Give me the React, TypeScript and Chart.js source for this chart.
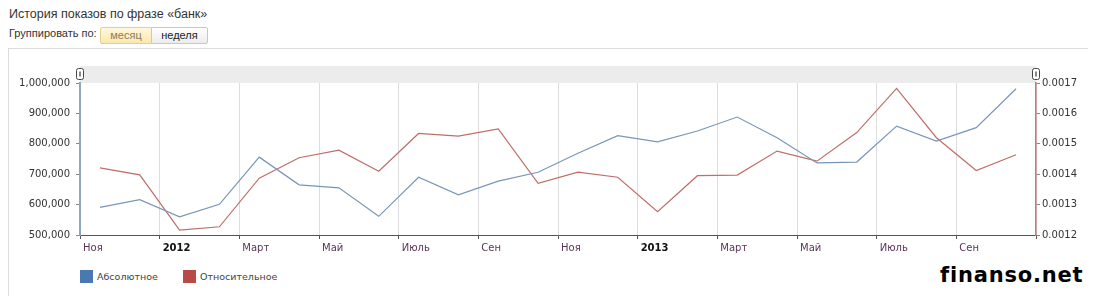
import React, { useEffect, useRef } from "react";
import { Chart, registerables } from "chart.js";

Chart.register(...registerables);

// Monthly data, Nov 2011 .. Oct 2013
const months = [
  "2011-11", "2011-12", "2012-01", "2012-02", "2012-03", "2012-04",
  "2012-05", "2012-06", "2012-07", "2012-08", "2012-09", "2012-10",
  "2012-11", "2012-12", "2013-01", "2013-02", "2013-03", "2013-04",
  "2013-05", "2013-06", "2013-07", "2013-08", "2013-09", "2013-10",
];
const absoluteValues = [
  591000, 616500, 560000, 601000, 756000, 665000,
  655000, 561500, 690000, 632000, 677000, 706500,
  769000, 827000, 806500, 842000, 888000, 820000,
  737000, 740000, 858000, 809000, 853000, 981000,
];
const relativeValues = [
  0.001421, 0.001398, 0.001216, 0.001227, 0.001387, 0.001454,
  0.001479, 0.00141, 0.001534, 0.001525, 0.001549, 0.00137,
  0.001407, 0.00139, 0.001277, 0.001395, 0.001397, 0.001476,
  0.001443, 0.001537, 0.001682, 0.00152, 0.001412, 0.001464,
];
// Labels every two months from the start of Nov 2011
const xTickLabels = [
  "Ноя", "2012", "Март", "Май", "Июль", "Сен",
  "Ноя", "2013", "Март", "Май", "Июль", "Сен", "",
];
const yearLabels = ["2012", "2013"];
const leftTicks = [500000, 600000, 700000, 800000, 900000, 1000000];
const rightTicks = [0.0012, 0.0013, 0.0014, 0.0015, 0.0016, 0.0017];

const seriesNames = ["Абсолютное", "Относительное"];
const lineColors = ["#7896b9", "#bf6e68"];
const swatchColors = ["#4a78b0", "#b84a48"];

const AXIS_FONT = "'DejaVu Sans', Verdana, sans-serif";

const stripPlugin = {
  id: "strip",
  beforeDraw(chart: any) {
    const { ctx, chartArea } = chart;
    ctx.save();
    ctx.fillStyle = "#ececec";
    ctx.fillRect(chartArea.left, chartArea.top - 17, chartArea.right - chartArea.left, 17);
    ctx.restore();
  },
  afterDraw(chart: any) {
    const { ctx, chartArea } = chart;
    const drawHandle = (cx: number) => {
      const x = Math.round(cx) - 3.5;
      const y = chartArea.top - 14.5;
      ctx.save();
      ctx.fillStyle = "#ffffff";
      ctx.strokeStyle = "#444";
      ctx.lineWidth = 1;
      ctx.beginPath();
      const w = 7, h = 11, r = 2;
      ctx.moveTo(x + r, y);
      ctx.lineTo(x + w - r, y);
      ctx.quadraticCurveTo(x + w, y, x + w, y + r);
      ctx.lineTo(x + w, y + h - r);
      ctx.quadraticCurveTo(x + w, y + h, x + w - r, y + h);
      ctx.lineTo(x + r, y + h);
      ctx.quadraticCurveTo(x, y + h, x, y + h - r);
      ctx.lineTo(x, y + r);
      ctx.quadraticCurveTo(x, y, x + r, y);
      ctx.fill();
      ctx.stroke();
      ctx.fillStyle = "#888";
      ctx.fillRect(x + 2.5, y + 3, 2, 5);
      ctx.restore();
    };
    drawHandle(chartArea.left);
    drawHandle(chartArea.right);
  },
};

export default function App() {
  const canvasRef = useRef<HTMLCanvasElement | null>(null);

  useEffect(() => {
    if (!canvasRef.current) return;
    const absPoints = absoluteValues.map((v, i) => ({ x: i + 0.5, y: v }));
    const relPoints = relativeValues.map((v, i) => ({ x: i + 0.5, y: v }));
    const chart = new Chart(canvasRef.current, {
      type: "line",
      data: {
        datasets: [
          {
            label: seriesNames[0],
            data: absPoints,
            borderColor: lineColors[0],
            borderWidth: 1.2,
            pointRadius: 0,
            tension: 0,
            yAxisID: "y",
          },
          {
            label: seriesNames[1],
            data: relPoints,
            borderColor: lineColors[1],
            borderWidth: 1.2,
            pointRadius: 0,
            tension: 0,
            yAxisID: "y1",
          },
        ],
      },
      options: {
        animation: false,
        responsive: false,
        devicePixelRatio: 1,
        layout: { padding: { top: 35, left: 0, right: 0, bottom: 0 } },
        plugins: {
          legend: { display: false },
          tooltip: { enabled: false },
        },
        scales: {
          x: {
            type: "linear",
            min: 0,
            max: months.length,
            afterBuildTicks: (scale: any) => {
              scale.ticks = xTickLabels.map((_, i) => ({ value: i * 2 }));
            },
            afterFit: (scale: any) => {
              scale.height = 25;
            },
            grid: {
              color: "#dddddd",
              tickColor: "#555",
              tickLength: 4,
              drawOnChartArea: true,
            },
            border: { color: "#555", width: 1 },
            ticks: {
              autoSkip: false,
              maxRotation: 0,
              align: "start",
              labelOffset: 3,
              padding: 3,
              callback: (v: any) => xTickLabels[Math.round(Number(v) / 2)] ?? "",
              color: (ctx: any) => {
                const lab = xTickLabels[ctx.index] ?? "";
                return yearLabels.includes(lab) ? "#111" : "#5a3558";
              },
              font: (ctx: any) => {
                const lab = xTickLabels[ctx.index] ?? "";
                return {
                  family: AXIS_FONT,
                  size: 10,
                  weight: yearLabels.includes(lab) ? "bold" : "normal",
                };
              },
            },
          },
          y: {
            type: "linear",
            position: "left",
            min: leftTicks[0],
            max: leftTicks[leftTicks.length - 1],
            afterBuildTicks: (scale: any) => {
              scale.ticks = leftTicks.map((v) => ({ value: v }));
            },
            afterFit: (scale: any) => {
              scale.width = 72;
            },
            grid: { drawOnChartArea: false, tickLength: 4, tickColor: "#888" },
            border: { color: "#8fa6c0", width: 2 },
            ticks: {
              padding: 6,
              color: "#333",
              font: { family: AXIS_FONT, size: 10 },
              callback: (v: any) => Number(v).toLocaleString("en-US"),
            },
          },
          y1: {
            type: "linear",
            position: "right",
            min: rightTicks[0],
            max: rightTicks[rightTicks.length - 1],
            afterBuildTicks: (scale: any) => {
              scale.ticks = rightTicks.map((v) => ({ value: v }));
            },
            afterFit: (scale: any) => {
              scale.width = 54;
            },
            grid: { drawOnChartArea: false, tickLength: 4, tickColor: "#888" },
            border: { color: "#c07a76", width: 1.5 },
            ticks: {
              padding: 2,
              color: "#333",
              font: { family: AXIS_FONT, size: 10 },
              callback: (v: any) => Number(v).toFixed(4),
            },
          },
        },
      },
      plugins: [stripPlugin],
    } as any);
    return () => chart.destroy();
  }, []);

  const btnBase: React.CSSProperties = {
    position: "absolute",
    top: 19,
    height: 17,
    boxSizing: "border-box",
    fontSize: 11,
    lineHeight: "15px",
    textAlign: "center",
    fontFamily: "'Liberation Sans', Arial, sans-serif",
  };

  return (
    <div
      style={{
        position: "relative",
        width: 1080,
        height: 288,
        fontFamily: "'Liberation Sans', Arial, sans-serif",
        color: "#333",
      }}
    >
      <div style={{ position: "absolute", left: 1, top: -1, fontSize: 12.5, lineHeight: "14px", color: "#333", whiteSpace: "nowrap" }}>
        История показов по фразе «банк»
      </div>
      <div style={{ position: "absolute", left: 1, top: 19, fontSize: 11, lineHeight: "13px", color: "#333", whiteSpace: "nowrap" }}>
        Группировать по:
      </div>
      <div
        style={{
          ...btnBase,
          left: 92,
          width: 52,
          border: "1px solid #e3cf8e",
          borderRadius: "2px 0 0 2px",
          background: "linear-gradient(#fff8de, #fbe8ad)",
          color: "#8c7c5c",
        }}
      >
        месяц
      </div>
      <div
        style={{
          ...btnBase,
          left: 143,
          width: 57,
          border: "1px solid #c8c8c8",
          borderRadius: "0 2px 2px 0",
          background: "linear-gradient(#ffffff, #ececec)",
          color: "#222",
        }}
      >
        неделя
      </div>
      <div
        style={{
          position: "absolute",
          left: 0,
          top: 40,
          width: 1082,
          height: 253,
          boxSizing: "border-box",
          border: "1px solid #dcdcdc",
          boxShadow: "0 1px 2px rgba(0,0,0,0.08)",
        }}
      />
      <canvas
        ref={canvasRef}
        width={1082}
        height={212}
        style={{ position: "absolute", left: 0, top: 40, width: 1082, height: 212 }}
      />
      {seriesNames.map((name, i) => (
        <div key={name} style={{ position: "absolute", left: i === 0 ? 72 : 175, top: 262, display: "flex", alignItems: "center", whiteSpace: "nowrap" }}>
          <div style={{ width: 13, height: 13, background: swatchColors[i], marginRight: 4 }} />
          <span style={{ fontFamily: AXIS_FONT, fontSize: 9.5, color: "#444", lineHeight: "13px" }}>{name}</span>
        </div>
      ))}
      <div
        style={{
          position: "absolute",
          left: 932,
          top: 255,
          fontFamily: "'DejaVu Sans', Verdana, sans-serif",
          fontWeight: "bold",
          fontSize: 21,
          letterSpacing: "0.8px",
          lineHeight: "24px",
          color: "#000",
          whiteSpace: "nowrap",
        }}
      >
        finanso.net
      </div>
    </div>
  );
}
